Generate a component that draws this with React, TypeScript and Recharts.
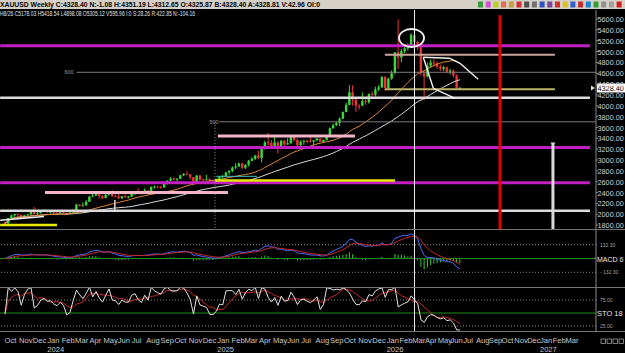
import {Bar, ComposedChart, Line, ReferenceDot, ReferenceLine, XAxis, YAxis} from "recharts";

// weekly XAUUSD bars, bar 0 = week of 2 Oct 2023
const opens = [
  1848, 1833, 1932, 1981, 2006, 1992, 1940, 1981, 2002, 2072,
  2004, 2019, 2053, 2063, 2045, 2049, 2029, 2018, 2039, 2024,
  2013, 2035, 2083, 2179, 2155, 2165, 2230, 2329, 2344, 2392,
  2337, 2301, 2360, 2415, 2334, 2327, 2293, 2333, 2322, 2326,
  2392, 2411, 2400, 2387, 2443, 2431, 2507, 2512, 2503, 2497,
  2577, 2622, 2658, 2653, 2657, 2721, 2747, 2736, 2685, 2563,
  2715, 2643, 2633, 2648, 2622, 2621, 2640, 2690, 2703, 2771,
  2798, 2861, 2883, 2936, 2858, 2910, 2984, 3022, 3085, 3037,
  3237, 3327, 3319, 3241, 3325, 3203, 3357, 3289, 3310, 3433,
  3368, 3274, 3337, 3355, 3350, 3337, 3363, 3398, 3336, 3371,
  3448, 3586, 3643, 3685, 3760, 3886, 4018, 4250, 4113, 4002,
  4000, 4085, 4065, 4218, 4200, 4300, 4340, 4530, 4330, 4500,
  4600, 4985, 4890, 5010, 5060, 5110, 5305, 5178, 5080, 4600,
  4540, 4740, 4800, 4780, 4720, 4680, 4710, 4630, 4650, 4560,
  4325.87,
];
const highs = [
  1858, 1933, 1997, 2009, 2010, 1993, 1993, 2008, 2075, 2135,
  2047, 2070, 2088, 2078, 2062, 2062, 2036, 2065, 2044, 2032,
  2041, 2088, 2195, 2185, 2223, 2265, 2330, 2431, 2418, 2393,
  2354, 2378, 2422, 2450, 2364, 2387, 2336, 2368, 2340, 2392,
  2424, 2483, 2412, 2477, 2446, 2509, 2531, 2525, 2529, 2586,
  2625, 2685, 2673, 2665, 2722, 2758, 2790, 2750, 2688, 2722,
  2721, 2658, 2726, 2664, 2638, 2665, 2697, 2726, 2786, 2817,
  2886, 2942, 2955, 2956, 2930, 3004, 3057, 3087, 3167, 3245,
  3358, 3500, 3368, 3435, 3345, 3366, 3365, 3403, 3446, 3452,
  3398, 3366, 3375, 3377, 3438, 3363, 3409, 3400, 3379, 3453,
  3600, 3675, 3707, 3790, 3897, 4060, 4380, 4381, 4160, 4030,
  4245, 4130, 4230, 4265, 4353, 4380, 4550, 4550, 4520, 4650,
  4990, 5595, 5050, 5120, 5150, 5340, 5418, 5200, 5100, 4660,
  4800, 4850, 4860, 4820, 4760, 4740, 4730, 4680, 4670, 4580,
  4351.19,
];
const lows = [
  1810, 1820, 1908, 1954, 1970, 1932, 1931, 1965, 1993, 1994,
  1973, 2016, 2053, 2017, 2013, 2002, 2010, 2016, 2015, 1984,
  2010, 2024, 2080, 2146, 2146, 2160, 2228, 2325, 2340, 2291,
  2277, 2291, 2345, 2325, 2325, 2286, 2290, 2300, 2293, 2319,
  2353, 2390, 2353, 2383, 2364, 2427, 2470, 2491, 2471, 2485,
  2547, 2614, 2625, 2603, 2646, 2704, 2721, 2643, 2537, 2560,
  2605, 2614, 2626, 2583, 2602, 2608, 2633, 2656, 2689, 2730,
  2772, 2832, 2877, 2833, 2832, 2880, 2980, 3000, 3015, 2957,
  3195, 3260, 3202, 3203, 3120, 3200, 3245, 3280, 3300, 3340,
  3255, 3247, 3282, 3310, 3324, 3268, 3345, 3330, 3311, 3360,
  3436, 3580, 3627, 3630, 3760, 3880, 4010, 4003, 3886, 3930,
  3995, 4020, 4040, 4160, 4170, 4270, 4330, 4275, 4320, 4480,
  4590, 4680, 4800, 4970, 5020, 5090, 4898, 5030, 4560, 4100,
  4520, 4700, 4720, 4680, 4640, 4640, 4600, 4580, 4520, 4310,
  4312.65,
];
const closes = [
  1833, 1932, 1981, 2006, 1992, 1940, 1981, 2002, 2072, 2004,
  2019, 2053, 2063, 2045, 2049, 2029, 2018, 2039, 2024, 2013,
  2035, 2083, 2179, 2155, 2165, 2230, 2329, 2344, 2392, 2337,
  2301, 2360, 2415, 2334, 2327, 2293, 2333, 2322, 2326, 2392,
  2411, 2400, 2387, 2443, 2431, 2507, 2512, 2503, 2497, 2577,
  2622, 2658, 2653, 2657, 2721, 2747, 2736, 2685, 2563, 2715,
  2643, 2633, 2648, 2622, 2621, 2640, 2690, 2703, 2771, 2798,
  2861, 2883, 2936, 2858, 2910, 2984, 3022, 3085, 3037, 3237,
  3327, 3319, 3241, 3325, 3203, 3357, 3289, 3310, 3433, 3368,
  3274, 3337, 3355, 3350, 3337, 3363, 3398, 3336, 3371, 3448,
  3586, 3643, 3685, 3760, 3886, 4018, 4250, 4113, 4002, 4000,
  4085, 4065, 4218, 4200, 4300, 4340, 4530, 4330, 4500, 4600,
  4985, 4890, 5010, 5060, 5110, 5305, 5178, 5080, 4600, 4540,
  4740, 4800, 4780, 4720, 4680, 4710, 4630, 4650, 4560, 4330,
  4328.4,
];

const priceTicks = [1800, 2000, 2200, 2400, 2600, 2800, 3000, 3200, 3400, 3600, 3800, 4000, 4200, 4400, 4600, 4800, 5000, 5200, 5400, 5600];
const monthNames = ["Jan", "Feb", "Mar", "Apr", "May", "Jun", "Jul", "Aug", "Sep", "Oct", "Nov", "Dec"];
// where each month label sits on the time axis (in weeks from bar 0), Oct 2023 .. Mar 2027
const monthTickWeeks = [
  -0.14, 4.29, 8.57,
  13, 17.43, 21.57, 26, 30.29, 34.71, 39, 43.43, 47.86, 52.14, 56.57, 60.86,
  65.29, 69.71, 73.71, 78.14, 82.43, 86.86, 91.14, 95.57, 100, 104.29, 108.71, 113,
  117.43, 121.36, 125.29, 129.22, 133.15, 137.08, 141.01, 144.94, 148.87, 152.8, 156.73, 160.66,
  164.59, 168.52, 172.45,
];
const headerText = "XAUUSD Weekly C:4328.40 N:-1.08 H:4351.19 L:4312.65 O:4325.87 B:4328.40 A:4328.81 V:42.96 OI:0";
const cursorText = "H8/26 C5178.03 H5418.54 L4898.08 O5305.12 V595.96 I:0 S:28.26 R:422.85 N:-104.16";
const lastClose = 4328.4;
const cursorWeek = 126;
const macdLevel = 132.3;
const macdLimit = 273;
const stoLevels = [25, 50, 75];

// drawn horizontal levels: price, first week, last week, tone
const levels = [
  {price: 5105, from: -1.5, to: 180, tone: "magenta"},
  {price: 3230, from: -1.5, to: 180, tone: "magenta"},
  {price: 2583, from: -1.5, to: 180, tone: "magenta"},
  {price: 4942, from: 116.9, to: 169.2, tone: "tan"},
  {price: 4618, from: 22, to: 181.8, tone: "gray"},
  {price: 3705, from: 66, to: 181.8, tone: "gray"},
  {price: 4304, from: 116.9, to: 169.2, tone: "olive"},
  {price: 4150, from: -1.5, to: 180, tone: "white"},
  {price: 2065, from: -1.5, to: 180, tone: "white"},
  {price: 3445, from: 65.5, to: 107.7, tone: "pink"},
  {price: 2400, from: 12.3, to: 68.6, tone: "pink"},
  {price: 2625, from: 64.6, to: 120, tone: "yellow"},
  {price: 1803, from: -1.5, to: 16, tone: "yellow"},
  {price: 2700, from: 65, to: 77.5, tone: "cyan"},
];
const levelLabels = [
  {week: 19.7, price: 4618, text: "600"},
  {week: 64.3, price: 3705, text: "500"},
];
// freehand strokes on the price panel: [week, price]
const sketchTop = [[128.7, 4894], [136.9, 4876], [140, 4784], [145.6, 4489]];
const sketchLow = [[128.7, 4894], [131.8, 4323], [138.5, 4138]];
const sketchLeft = [[-1.5, 1890], [12, 1960]];
const peakMark = {week: 125.1, price: 5250};
const redMarker = {week: 152.3, top: 5670};
const whiteMarker = {week: 168.6, top: 3315};
const dottedMarker = {week: 64.6, top: 3705};
const smallMarker = {week: 33.8, top: 2264, bottom: 2080};

const FONT = "'Liberation Sans', Arial, sans-serif";
const X_DOMAIN: [number, number] = [-1.54, 181.85];
const PRICE_DOMAIN: [number, number] = [1711, 5766];
const TONES: Record<string, {stroke: string; width: number}> = {
  magenta: {stroke: "#c21fc2", width: 3},
  tan: {stroke: "#c9a39c", width: 2},
  gray: {stroke: "#7c7c7c", width: 1},
  olive: {stroke: "#bcb36a", width: 2},
  white: {stroke: "#dadada", width: 2.5},
  pink: {stroke: "#f3b5c7", width: 3},
  yellow: {stroke: "#e8e800", width: 2.5},
  cyan: {stroke: "#3fc0c0", width: 1},
};

const ema = (v: number[], n: number) => {
  const k = 2 / (n + 1);
  const out: number[] = [];
  v.forEach((x, i) => out.push(i === 0 ? x : out[i - 1] + k * (x - out[i - 1])));
  return out;
};
const sma = (v: number[], n: number) =>
  v.map((_, i) => {
    const w = v.slice(Math.max(0, i - n + 1), i + 1);
    return w.reduce((a, b) => a + b, 0) / w.length;
  });

// indicators as the platform draws them: MA 20/40, MACD 6/12/6, STO 18
const ma20 = sma(closes, 20);
const ma40 = sma(closes, 40);
const fast = ema(closes, 6);
const slow = ema(closes, 12);
const macd = fast.map((v, i) => v - slow[i]);
const signal = ema(macd, 6);
const stoK = closes.map((c, i) => {
  const from = Math.max(0, i - 17);
  const hh = Math.max(...highs.slice(from, i + 1));
  const ll = Math.min(...lows.slice(from, i + 1));
  return ((c - ll) / (hh - ll)) * 100;
});
const stoD = sma(stoK, 6);

const rows = closes.map((c, i) => ({
  week: i,
  o: opens[i],
  h: highs[i],
  l: lows[i],
  c,
  range: [lows[i], highs[i]],
  ma20: ma20[i],
  ma40: ma40[i],
  macd: macd[i],
  signal: signal[i],
  hist: macd[i] - signal[i],
  k: stoK[i],
  d: stoD[i],
}));

const monthTicks = monthTickWeeks.map((pos, n) => {
  const m = (9 + n) % 12;
  return {pos, label: monthNames[m], year: m === 0 ? String(2023 + Math.floor((9 + n) / 12)) : ""};
});

const Candle = (props: any) => {
  let {x, y, width, height} = props;
  const {o, h, l, c} = props.payload;
  if (height < 0) {
    y += height;
    height = -height;
  }
  const cx = x + width / 2;
  const py = (v: number) => y + ((h - v) / (h - l || 1)) * height;
  const color = c >= o ? "#3ad83a" : "#ee3535";
  const top = py(Math.max(o, c));
  const bot = py(Math.min(o, c));
  return (
    <g>
      <line x1={cx} x2={cx} y1={y} y2={y + height} stroke={color} strokeWidth={1}/>
      <rect x={cx - 1.2} y={top} width={2.4} height={Math.max(bot - top, 1)} fill={color}/>
    </g>
  );
};

const PriceTick = ({x, y, payload}: any) => (
  <text x={x - 0.5} y={y + 3} fill="#d2d2d2" fontSize={7.3} fontFamily={FONT}>{payload.value.toFixed(2)}</text>
);

const PriceTag = ({viewBox}: any) => {
  const x = viewBox.x + viewBox.width;
  const y = viewBox.y;
  return (
    <g>
      <polygon points={`${x - 5},${y - 2.5} ${x - 1},${y} ${x - 5},${y + 2.5}`} fill="#e0e0e0"/>
      <rect x={x + 1} y={y - 4.5} width={30} height={9} fill="#ffffff"/>
      <text x={x + 1.5} y={y + 3} fill="#000" fontSize={7.3} fontFamily={FONT}>{lastClose.toFixed(2)}</text>
    </g>
  );
};

const MacdTick = ({x, y, payload}: any) =>
  payload.value === 0 ? (
    <text x={x - 1} y={y + 3} fill="#e6e6e6" fontSize={7} fontFamily={FONT}>MACD 6</text>
  ) : (
    <text x={x + 2} y={y + 2} fill="#a0a0a0" fontSize={5} fontFamily={FONT}>
      {payload.value > 0 ? payload.value.toFixed(2) : "- " + Math.abs(payload.value).toFixed(2)}
    </text>
  );

const StoTick = ({x, y, payload}: any) =>
  payload.value === 50 ? (
    <text x={x - 1} y={y + 3} fill="#e6e6e6" fontSize={7.5} fontFamily={FONT}>STO 18</text>
  ) : (
    <text x={x + 2} y={y + 2} fill="#a0a0a0" fontSize={5} fontFamily={FONT}>{payload.value.toFixed(2)}</text>
  );

const MonthTick = ({x, y, payload}: any) => {
  const t = monthTicks.find((m) => Math.abs(m.pos - payload.value) < 1e-6);
  if (!t) return null;
  return (
    <g fill="#c8c8c8" fontSize={7.6} fontFamily={FONT}>
      <text x={x} y={y + 12}>{t.label}</text>
      {t.year && <text x={x} y={y + 21}>{t.year}</text>}
    </g>
  );
};

const seg = (pts: number[][], key: string) =>
  pts.slice(1).map((p, n) => (
    <ReferenceLine key={key + n} segment={[{x: pts[n][0], y: pts[n][1]}, {x: p[0], y: p[1]}]}
                   stroke="#f0f0f0" strokeWidth={1.4} ifOverflow="visible"/>
  ));

const toolbar = ["#3a9a3a", "#d050d0", "#b8d020", "#e07050", "#c8a040", "#d03030", "#505050", "#707070",
  "#3050c0", "#8040a0", "#d03030", "#e0c020", "#3060d0", "#c03030", "#2080d0", "#30a030", "#909090", "#a0a0a0", "#d02020"];

export default function App() {
  return (
    <div style={{position: "absolute", left: 0, top: 0, width: 625, height: 353, background: "#000", overflow: "hidden"}}>
      <div style={{position: "absolute", left: 0, top: 0}}>
        <ComposedChart width={625} height={230} data={rows} margin={{top: 10, right: 0, bottom: 0, left: 0}}>
          <XAxis dataKey="week" type="number" domain={X_DOMAIN} allowDataOverflow hide/>
          <YAxis orientation="right" width={29} domain={PRICE_DOMAIN} allowDataOverflow ticks={priceTicks} interval={0}
                 tick={PriceTick} tickSize={2} tickMargin={0} axisLine={{stroke: "#8a8a8a"}} tickLine={{stroke: "#8a8a8a"}}/>
          <Line dataKey="ma40" stroke="#dcdcdc" strokeWidth={1} dot={false} activeDot={false} isAnimationActive={false}/>
          <Line dataKey="ma20" stroke="#e2873a" strokeWidth={1} dot={false} activeDot={false} isAnimationActive={false}/>
          <Bar dataKey="range" barSize={3} shape={Candle} isAnimationActive={false}/>
          {levels.map((lv, n) => (
            <ReferenceLine key={"lv" + n} segment={[{x: lv.from, y: lv.price}, {x: lv.to, y: lv.price}]}
                           stroke={TONES[lv.tone].stroke} strokeWidth={TONES[lv.tone].width} ifOverflow="visible"/>
          ))}
          {levelLabels.map((t) => (
            <ReferenceDot key={t.text} x={t.week} y={t.price} r={0} ifOverflow="visible"
                          shape={(p: any) => <text x={p.cx} y={p.cy + 2} fill="#9a9a9a" fontSize={5.5} fontFamily={FONT} textAnchor="middle">{t.text}</text>}/>
          ))}
          {seg(sketchLeft, "sl")}
          <ReferenceLine segment={[{x: dottedMarker.week, y: dottedMarker.top}, {x: dottedMarker.week, y: PRICE_DOMAIN[0]}]}
                         stroke="#9a9a9a" strokeDasharray="1 2" ifOverflow="visible"/>
          <ReferenceLine segment={[{x: smallMarker.week, y: smallMarker.top}, {x: smallMarker.week, y: smallMarker.bottom}]}
                         stroke="#d8d8d8" strokeWidth={1.5} ifOverflow="visible"/>
          <ReferenceLine segment={[{x: redMarker.week, y: redMarker.top}, {x: redMarker.week, y: PRICE_DOMAIN[0]}]}
                         stroke="#e00000" strokeWidth={3} ifOverflow="visible"/>
          <ReferenceLine segment={[{x: whiteMarker.week, y: whiteMarker.top}, {x: whiteMarker.week, y: PRICE_DOMAIN[0]}]}
                         stroke="#d8d8d8" strokeWidth={3} ifOverflow="visible"/>
          <ReferenceLine segment={[{x: whiteMarker.week - 0.7, y: whiteMarker.top}, {x: whiteMarker.week + 0.7, y: whiteMarker.top}]}
                         stroke="#d8d8d8" strokeWidth={1} ifOverflow="visible"/>
          {seg(sketchTop, "st")}
          {seg(sketchLow, "sw")}
          <ReferenceDot x={peakMark.week} y={peakMark.price} r={0} ifOverflow="visible"
                        shape={(p: any) => <ellipse cx={p.cx} cy={p.cy} rx={12.5} ry={9} fill="none" stroke="#f4f4f4" strokeWidth={1.8}/>}/>
          <ReferenceLine x={cursorWeek} stroke="#eeeeee" strokeWidth={1}/>
          <ReferenceLine y={lastClose} stroke="none" ifOverflow="visible" label={<PriceTag/>}/>
        </ComposedChart>
      </div>

      <div style={{position: "absolute", left: 0, top: 230}}>
        <ComposedChart width={625} height={57} data={rows} margin={{top: 0, right: 0, bottom: 0, left: 0}}>
          <XAxis dataKey="week" type="number" domain={X_DOMAIN} allowDataOverflow hide/>
          <YAxis orientation="right" width={29} domain={[-macdLimit, macdLimit]} allowDataOverflow ticks={[-macdLevel, 0, macdLevel]}
                 interval={0} tick={MacdTick} tickSize={0} tickMargin={2} axisLine={{stroke: "#8a8a8a"}} tickLine={false}/>
          <ReferenceLine y={macdLevel} stroke="#8a8a8a" strokeDasharray="1 2"/>
          <ReferenceLine y={-macdLevel} stroke="#8a8a8a" strokeDasharray="1 2"/>
          <ReferenceLine y={0} stroke="#1e8a1e"/>
          <Bar dataKey="hist" fill="#35cc35" barSize={1} isAnimationActive={false}/>
          <Line dataKey="macd" stroke="#4b6bff" strokeWidth={1} dot={false} activeDot={false} isAnimationActive={false}/>
          <Line dataKey="signal" stroke="#c82828" strokeWidth={1} dot={false} activeDot={false} isAnimationActive={false}/>
          <ReferenceLine x={cursorWeek} stroke="#eeeeee" strokeWidth={1}/>
        </ComposedChart>
      </div>

      <div style={{position: "absolute", left: 0, top: 287}}>
        <ComposedChart width={625} height={66} data={rows} margin={{top: 0, right: 0, bottom: 0, left: 0}}>
          <XAxis dataKey="week" type="number" domain={X_DOMAIN} allowDataOverflow height={22}
                 ticks={monthTicks.map((t) => t.pos)} interval={0} tick={MonthTick} tickLine={false} axisLine={false}
                 tickSize={0} tickMargin={0}/>
          <YAxis orientation="right" width={29} domain={[15.4, 100]} allowDataOverflow ticks={stoLevels} interval={0}
                 tick={StoTick} tickSize={0} tickMargin={2} axisLine={{stroke: "#8a8a8a"}} tickLine={false}/>
          <ReferenceLine y={stoLevels[2]} stroke="#8a8a8a" strokeDasharray="1 2"/>
          <ReferenceLine y={stoLevels[0]} stroke="#8a8a8a" strokeDasharray="1 2"/>
          <ReferenceLine y={stoLevels[1]} stroke="#1e8a1e"/>
          <Line dataKey="d" stroke="#c82828" strokeWidth={1} dot={false} activeDot={false} isAnimationActive={false}/>
          <Line dataKey="k" stroke="#e4e4e4" strokeWidth={1} dot={false} activeDot={false} isAnimationActive={false}/>
          <ReferenceLine x={cursorWeek} stroke="#eeeeee" strokeWidth={1}/>
        </ComposedChart>
      </div>

      <div style={{position: "absolute", left: 0, top: 229, width: 625, height: 1, background: "#747474"}}/>
      <div style={{position: "absolute", left: 0, top: 287, width: 625, height: 1, background: "#747474"}}/>
      <div style={{position: "absolute", left: 0, top: 331, width: 625, height: 1, background: "#747474"}}/>

      <svg width={625} height={353} style={{position: "absolute", left: 0, top: 0, pointerEvents: "none"}}>
        <rect x={0} y={0} width={625} height={9} fill="#d4d0c8"/>
        <text x={0} y={7} fontSize={7} fontWeight="bold" fontFamily={FONT} fill="#000" textLength={320} lengthAdjust="spacingAndGlyphs">{headerText}</text>
        <text x={0} y={15.5} fontSize={6.5} fontFamily={FONT} fill="#e2e2e2" textLength={195} lengthAdjust="spacingAndGlyphs">{cursorText}</text>
        {toolbar.map((c, n) => (
          <rect key={n} x={478 + n * 7.7} y={1.5} width={5} height={6} fill={c}/>
        ))}
        {[0, 1, 2, 3].map((n) => (
          <rect key={n} x={601 + n * 6} y={339} width={4.5} height={4.5} fill="none" stroke="#9a9a9a" strokeWidth={0.8}/>
        ))}
      </svg>
    </div>
  );
}
